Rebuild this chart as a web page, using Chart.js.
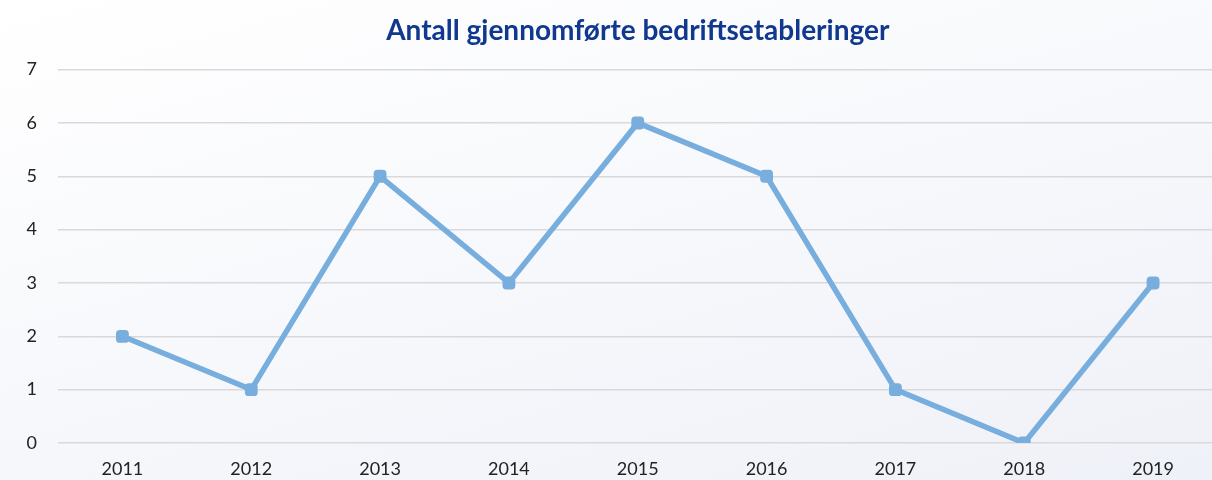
<!DOCTYPE html>
<html>
<head>
<meta charset="utf-8">
<script src="https://cdn.jsdelivr.net/npm/chart.js@4.4.1/dist/chart.umd.min.js"></script>
<style>
  html, body { margin: 0; padding: 0; overflow: hidden; }
  body {
    width: 1212px; height: 480px;
    background: linear-gradient(165deg, #ffffff 0%, #f8f9fc 45%, #eff1f8 100%);
  }
  #wrap { position: relative; width: 1225px; height: 480px; }
</style>
</head>
<body>
<div id="wrap"><canvas id="chart"></canvas></div>
<script>
// Years and number of completed business establishments
const years = ['2011', '2012', '2013', '2014', '2015', '2016', '2017', '2018', '2019'];
const establishments = [2, 1, 5, 3, 6, 5, 1, 0, 3];
const titleText = 'Antall gjennomførte bedriftsetableringer';

const lineColor = '#78aedd';

new Chart(document.getElementById('chart'), {
  type: 'line',
  data: {
    labels: years,
    datasets: [{
      label: 'Antall',
      data: establishments,
      borderColor: lineColor,
      backgroundColor: lineColor,
      borderWidth: 5.5,
      pointStyle: 'rectRounded',
      pointRadius: 7.5,
      pointHoverRadius: 7.5,
      pointBorderWidth: 0,
      tension: 0,
    }],
  },
  options: {
    responsive: true,
    maintainAspectRatio: false,
    animation: false,
    layout: { padding: 0 },
    plugins: {
      legend: { display: false },
      tooltip: { enabled: false },
      title: {
        display: true,
        fullSize: false,
        text: titleText,
        color: '#10388f',
        font: { family: 'Lato', size: 28, weight: 'bold' },
        padding: { top: 14, bottom: 22 },
      },
    },
    scales: {
      x: {
        offset: true,
        grid: { display: false },
        border: { display: false },
        ticks: {
          color: '#222',
          font: { family: 'Lato', size: 18 },
          padding: 7,
          maxRotation: 0,
        },
        afterFit: (axis) => { axis.height = 37; },
      },
      y: {
        min: 0,
        max: 7,
        grid: { color: '#d9d9dc', lineWidth: 1.5, tickLength: 0, drawTicks: false },
        border: { display: false },
        ticks: {
          stepSize: 1,
          color: '#222',
          font: { family: 'Lato', size: 18 },
          padding: 21,
        },
        afterFit: (axis) => { axis.width = 58; },
      },
    },
  },
});
</script>
</body>
</html>
